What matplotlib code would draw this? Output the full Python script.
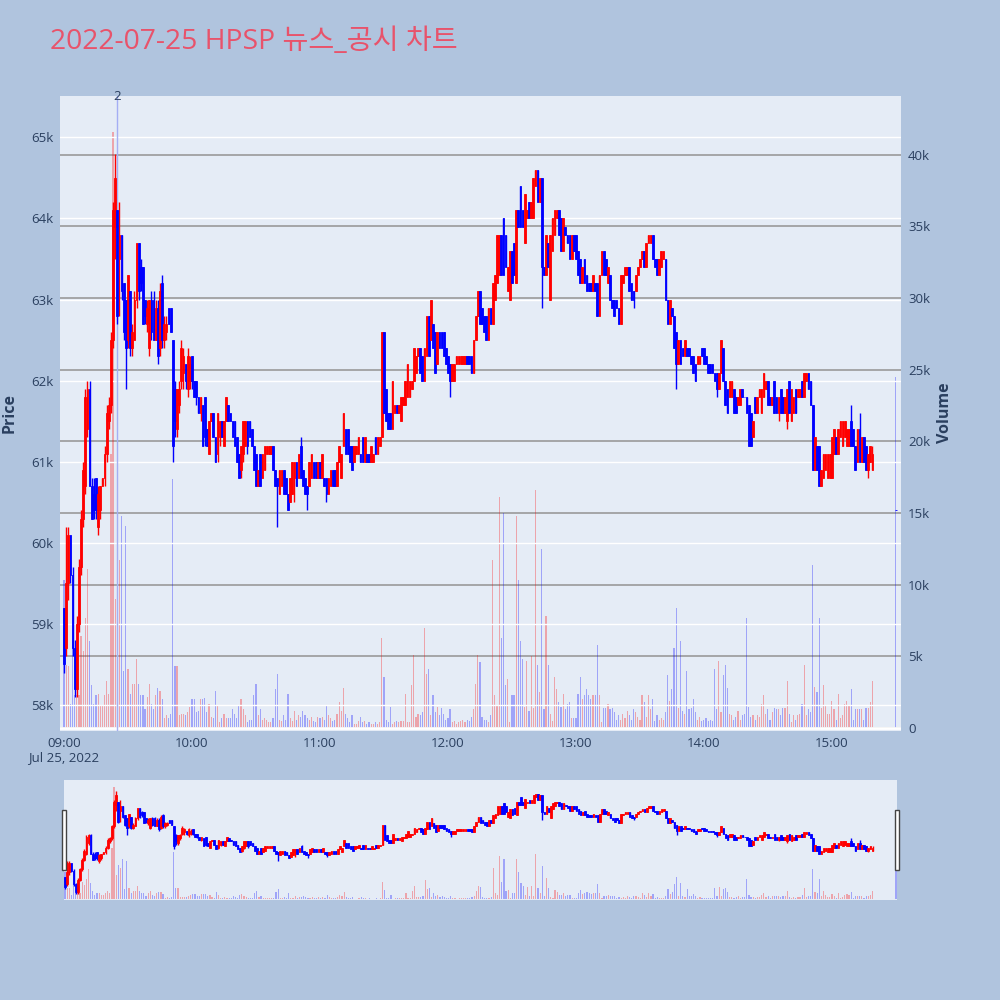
#!/usr/bin/env python3
"""1-minute candlestick + volume chart with a news marker and a range-slider preview."""
import matplotlib as mpl
mpl.use('Agg')
import matplotlib.pyplot as plt
import matplotlib.patches as mpatches
import matplotlib.transforms as mtransforms
from matplotlib.ticker import FixedLocator, FuncFormatter
import numpy as np

plt.rcParams['font.family'] = ['Open Sans', 'Noto Sans CJK KR', 'DejaVu Sans']

TITLE = "2022-07-25 HPSP 뉴스_공시 차트"

# one bar per minute from 09:00 to 15:19, prices in units of 100 won
open_ = [
	592, 587, 595, 601, 596, 587, 582, 590, 597, 603, 607, 614, 619, 607, 606, 608, 602, 604, 607, 608,
	611, 615, 617, 625, 639, 641, 635, 638, 632, 630, 625, 631, 624, 625, 630, 637, 634, 634, 630, 627,
	624, 630, 630, 625, 629, 624, 632, 625, 626, 629, 629, 625, 619, 614, 617, 620, 621, 622, 619, 620,
	623, 620, 620, 618, 616, 617, 618, 614, 611, 615, 616, 613, 611, 613, 615, 612, 615, 617, 616, 615,
	615, 613, 611, 609, 611, 612, 615, 615, 614, 612, 611, 607, 611, 608, 609, 611, 611, 611, 612, 609,
	608, 606, 607, 609, 608, 606, 605, 606, 608, 610, 608, 612, 609, 608, 607, 607, 608, 610, 610, 608,
	610, 608, 608, 608, 606, 607, 609, 609, 607, 610, 608, 612, 614, 614, 612, 612, 610, 611, 611, 611,
	613, 610, 611, 611, 610, 610, 613, 611, 612, 613, 626, 619, 616, 616, 614, 616, 617, 616, 615, 617,
	617, 618, 618, 619, 620, 621, 623, 624, 623, 620, 623, 628, 625, 627, 626, 622, 626, 626, 626, 624,
	623, 622, 620, 620, 622, 622, 622, 622, 622, 623, 623, 623, 621, 625, 628, 631, 629, 628, 628, 625,
	629, 627, 630, 632, 633, 638, 640, 638, 631, 630, 636, 637, 632, 641, 644, 641, 637, 640, 642, 640,
	640, 644, 646, 642, 645, 634, 633, 637, 630, 636, 638, 640, 641, 640, 636, 639, 638, 638, 635, 638,
	638, 636, 635, 632, 635, 633, 632, 632, 631, 632, 632, 628, 633, 636, 635, 632, 633, 630, 630, 630,
	629, 627, 632, 633, 633, 634, 632, 631, 631, 633, 634, 635, 636, 634, 637, 637, 638, 635, 635, 633,
	634, 635, 635, 630, 627, 629, 628, 626, 622, 625, 624, 623, 624, 624, 623, 623, 622, 622, 622, 624,
	624, 623, 622, 622, 622, 621, 621, 619, 621, 624, 620, 619, 618, 618, 619, 618, 617, 617, 619, 618,
	618, 617, 616, 613, 618, 616, 618, 616, 618, 619, 620, 618, 617, 620, 618, 616, 619, 618, 616, 615,
	620, 615, 616, 619, 618, 618, 620, 618, 620, 621, 620, 617, 609, 612, 612, 607, 608, 609, 608, 608,
	608, 611, 613, 611, 613, 612, 613, 612, 612, 615, 614, 612, 610, 614, 610, 613, 612, 609, 610, 609,
]
high = [
	592, 602, 602, 601, 597, 588, 591, 598, 604, 610, 619, 620, 620, 608, 608, 608, 607, 607, 608, 612,
	617, 618, 626, 642, 648, 641, 642, 638, 632, 630, 633, 631, 627, 631, 637, 637, 635, 634, 630, 630,
	630, 631, 631, 630, 630, 632, 633, 628, 628, 629, 629, 625, 620, 619, 620, 625, 624, 622, 624, 623,
	623, 620, 620, 618, 618, 617, 618, 614, 615, 616, 616, 613, 616, 615, 615, 615, 618, 617, 616, 615,
	615, 613, 611, 612, 615, 615, 615, 615, 614, 612, 611, 609, 611, 611, 612, 612, 612, 612, 612, 609,
	608, 609, 609, 609, 608, 606, 608, 610, 610, 610, 611, 613, 609, 608, 607, 610, 611, 610, 610, 610,
	610, 611, 608, 608, 608, 609, 609, 609, 610, 612, 611, 616, 614, 614, 612, 612, 612, 612, 613, 611,
	613, 613, 611, 611, 612, 611, 613, 613, 613, 626, 626, 619, 616, 616, 620, 617, 617, 617, 618, 618,
	620, 622, 620, 620, 624, 623, 624, 624, 623, 624, 628, 628, 630, 627, 626, 626, 626, 626, 626, 624,
	623, 622, 622, 622, 623, 623, 623, 623, 623, 623, 623, 623, 625, 628, 631, 631, 629, 628, 628, 629,
	629, 632, 633, 638, 638, 638, 640, 638, 634, 636, 636, 637, 641, 641, 644, 641, 643, 641, 642, 642,
	645, 646, 646, 645, 645, 634, 638, 637, 638, 640, 641, 641, 641, 640, 640, 639, 638, 638, 638, 638,
	638, 636, 635, 634, 635, 633, 632, 632, 633, 632, 632, 633, 636, 636, 635, 634, 633, 630, 630, 630,
	629, 633, 633, 634, 634, 634, 632, 631, 633, 634, 635, 636, 636, 637, 638, 638, 638, 635, 635, 635,
	636, 636, 635, 630, 630, 629, 628, 626, 625, 625, 624, 625, 624, 624, 623, 623, 622, 623, 623, 624,
	624, 623, 622, 622, 622, 621, 621, 621, 625, 624, 620, 619, 620, 620, 619, 618, 618, 619, 619, 618,
	618, 617, 616, 615, 618, 618, 619, 619, 621, 620, 620, 618, 618, 620, 618, 618, 619, 618, 618, 619,
	620, 619, 618, 619, 619, 619, 620, 621, 621, 621, 620, 617, 613, 612, 612, 609, 611, 611, 611, 611,
	613, 614, 613, 614, 615, 615, 615, 614, 614, 617, 614, 612, 614, 616, 613, 613, 612, 611, 612, 612,
]
low = [
	584, 586, 593, 595, 586, 581, 581, 589, 596, 602, 606, 613, 607, 603, 603, 603, 601, 603, 607, 607,
	610, 614, 616, 624, 635, 627, 628, 630, 625, 619, 624, 623, 623, 625, 629, 630, 631, 627, 627, 626,
	623, 625, 625, 625, 622, 623, 624, 624, 625, 627, 626, 610, 613, 613, 616, 619, 619, 619, 618, 619,
	619, 618, 617, 616, 615, 612, 612, 612, 611, 615, 613, 610, 610, 612, 613, 612, 615, 615, 615, 613,
	612, 610, 608, 608, 610, 612, 611, 613, 612, 609, 607, 607, 607, 608, 609, 611, 611, 611, 609, 607,
	602, 606, 607, 606, 606, 604, 605, 606, 605, 607, 608, 608, 607, 606, 604, 607, 608, 608, 608, 608,
	608, 608, 607, 605, 606, 607, 607, 607, 607, 610, 608, 612, 611, 611, 610, 609, 610, 611, 611, 610,
	610, 610, 610, 610, 610, 610, 611, 611, 612, 613, 616, 615, 614, 614, 614, 616, 616, 616, 615, 617,
	617, 618, 618, 619, 620, 621, 623, 621, 620, 620, 623, 623, 625, 624, 621, 622, 624, 624, 623, 622,
	621, 618, 620, 620, 622, 622, 622, 622, 622, 622, 622, 621, 621, 625, 628, 627, 627, 626, 625, 625,
	627, 627, 630, 632, 633, 633, 633, 634, 631, 630, 632, 633, 632, 639, 639, 639, 637, 640, 640, 640,
	640, 644, 642, 642, 629, 633, 633, 634, 630, 636, 638, 640, 638, 636, 636, 638, 637, 635, 635, 636,
	635, 633, 632, 632, 632, 631, 631, 631, 631, 631, 628, 628, 633, 633, 633, 632, 630, 629, 628, 629,
	627, 627, 632, 633, 633, 631, 630, 629, 631, 633, 634, 635, 634, 634, 637, 637, 635, 634, 633, 633,
	634, 635, 630, 627, 627, 628, 624, 619, 622, 622, 623, 623, 623, 623, 622, 621, 620, 622, 622, 623,
	622, 622, 621, 621, 621, 620, 618, 619, 621, 620, 617, 616, 618, 618, 616, 616, 617, 617, 618, 618,
	616, 612, 612, 613, 616, 616, 618, 616, 618, 619, 617, 617, 617, 616, 616, 615, 616, 616, 616, 614,
	616, 615, 616, 616, 618, 618, 618, 618, 620, 619, 617, 609, 609, 609, 607, 607, 608, 609, 608, 608,
	608, 611, 611, 611, 613, 612, 613, 612, 612, 612, 612, 609, 610, 610, 610, 610, 609, 608, 610, 609,
]
close = [
	585, 595, 601, 596, 587, 582, 590, 597, 603, 609, 618, 619, 607, 603, 604, 604, 606, 607, 608, 611,
	616, 617, 625, 641, 645, 628, 638, 631, 626, 624, 633, 624, 626, 630, 637, 631, 632, 627, 628, 629,
	630, 626, 625, 629, 623, 631, 625, 627, 627, 627, 626, 612, 615, 619, 619, 624, 623, 620, 623, 622,
	620, 618, 618, 616, 618, 612, 613, 612, 615, 616, 613, 610, 616, 615, 613, 615, 618, 615, 615, 613,
	612, 610, 608, 612, 615, 615, 612, 613, 612, 609, 607, 609, 607, 611, 612, 612, 612, 612, 609, 607,
	607, 609, 609, 606, 606, 604, 608, 610, 610, 607, 611, 608, 607, 606, 606, 610, 611, 608, 608, 610,
	608, 611, 607, 606, 608, 609, 607, 607, 610, 612, 611, 616, 611, 611, 610, 609, 612, 612, 613, 610,
	610, 613, 610, 610, 612, 611, 611, 613, 613, 626, 616, 615, 614, 614, 620, 617, 616, 617, 618, 618,
	620, 622, 620, 620, 624, 623, 624, 621, 620, 624, 628, 623, 630, 624, 621, 626, 624, 624, 623, 622,
	621, 620, 622, 622, 623, 623, 623, 623, 623, 622, 622, 621, 625, 628, 631, 627, 627, 626, 625, 629,
	627, 632, 633, 638, 638, 633, 633, 634, 634, 636, 632, 633, 641, 639, 639, 639, 643, 641, 640, 642,
	645, 646, 642, 645, 634, 633, 638, 634, 638, 640, 641, 641, 638, 636, 640, 638, 637, 635, 638, 636,
	635, 633, 632, 634, 632, 631, 631, 631, 633, 631, 628, 633, 636, 633, 633, 634, 630, 629, 628, 629,
	627, 633, 633, 634, 634, 631, 630, 630, 633, 634, 635, 636, 634, 637, 638, 638, 635, 634, 633, 635,
	636, 636, 630, 627, 630, 628, 624, 622, 625, 622, 623, 625, 623, 623, 622, 621, 620, 623, 623, 623,
	622, 622, 621, 621, 621, 620, 619, 621, 625, 620, 617, 616, 620, 620, 616, 616, 618, 619, 618, 618,
	616, 612, 612, 615, 616, 618, 619, 619, 621, 620, 617, 617, 618, 616, 616, 618, 616, 616, 618, 619,
	616, 619, 618, 616, 619, 619, 618, 621, 621, 619, 617, 609, 613, 609, 607, 609, 611, 611, 611, 611,
	613, 614, 611, 614, 615, 615, 615, 614, 614, 612, 612, 609, 614, 610, 613, 610, 609, 611, 612, 611,
]
# volume per minute, thousands of shares
volume_k = [
	10.3, 4.4, 4.3, 1.7, 6.1, 2.3, 2.3, 2.3, 6.4, 5.4, 7.7, 11.1, 6.1, 3.0, 1.7, 2.3, 2.4, 1.6, 1.6, 2.3,
	3.3, 2.4, 19.1, 41.6, 9.0, 12.7, 11.7, 14.8, 4.0, 14.1, 4.1, 2.4, 3.1, 3.1, 4.8, 3.1, 2.3, 2.3, 1.3, 2.2,
	3.1, 1.7, 1.3, 2.3, 2.8, 2.6, 2.0, 0.7, 0.9, 0.7, 1.0, 17.4, 4.3, 4.3, 0.9, 1.0, 1.0, 0.9, 1.1, 1.5,
	2.0, 2.0, 1.1, 1.2, 2.0, 2.0, 2.1, 1.1, 1.7, 0.8, 0.7, 2.6, 1.6, 0.4, 0.7, 1.0, 0.7, 0.7, 0.7, 1.3,
	1.0, 0.7, 1.6, 2.0, 1.3, 0.9, 0.4, 0.6, 0.6, 2.3, 3.1, 0.9, 1.3, 0.6, 0.7, 0.6, 0.4, 0.4, 0.7, 2.7,
	3.8, 0.6, 0.5, 0.9, 0.6, 2.4, 0.7, 0.5, 1.2, 0.6, 0.9, 0.8, 1.2, 0.9, 0.7, 0.6, 0.8, 0.5, 0.4, 0.8,
	0.7, 0.8, 0.6, 1.6, 0.9, 0.7, 0.5, 0.6, 1.0, 1.8, 1.2, 2.8, 1.0, 0.7, 0.4, 0.9, 0.3, 0.3, 0.5, 0.8,
	0.4, 0.5, 0.3, 0.4, 0.3, 0.3, 0.4, 0.3, 0.4, 6.3, 3.6, 0.6, 0.4, 1.5, 0.3, 0.4, 0.5, 0.4, 0.5, 0.5,
	2.4, 0.4, 0.4, 3.0, 5.1, 0.8, 1.0, 0.9, 1.1, 7.0, 3.8, 4.1, 0.9, 2.3, 1.1, 1.5, 0.9, 1.4, 1.0, 0.6,
	0.7, 1.3, 0.4, 0.5, 0.3, 0.4, 0.5, 0.6, 0.4, 0.6, 0.5, 0.8, 1.3, 3.1, 5.1, 4.6, 0.8, 0.6, 0.6, 0.4,
	0.9, 11.7, 2.3, 1.6, 16.1, 6.3, 15.0, 3.0, 3.4, 0.4, 2.3, 2.3, 14.8, 10.3, 6.1, 4.8, 1.5, 4.7, 1.2, 5.0,
	1.4, 16.6, 4.4, 2.5, 12.5, 1.3, 7.8, 4.4, 1.0, 0.5, 3.6, 2.7, 1.8, 1.5, 2.4, 1.3, 1.7, 1.8, 0.7, 0.7,
	0.7, 2.4, 3.6, 2.0, 2.3, 2.7, 2.3, 2.0, 2.3, 2.3, 5.8, 2.3, 0.4, 1.4, 1.4, 1.7, 1.3, 1.4, 1.1, 0.6,
	0.9, 0.6, 1.0, 0.7, 1.2, 0.9, 0.6, 1.3, 1.1, 0.8, 0.6, 2.3, 1.8, 0.8, 2.3, 1.3, 2.0, 0.5, 0.9, 0.6,
	0.7, 0.6, 1.1, 3.7, 1.9, 2.7, 5.6, 8.4, 1.4, 6.1, 1.2, 1.0, 4.0, 1.3, 1.4, 2.0, 1.1, 0.6, 0.8, 0.5,
	0.6, 0.7, 0.5, 0.6, 0.5, 4.1, 1.3, 4.7, 1.1, 3.7, 4.4, 2.8, 1.0, 0.9, 0.6, 0.8, 1.2, 0.6, 0.9, 1.0,
	7.7, 1.5, 0.8, 0.9, 0.6, 0.9, 0.8, 1.7, 2.3, 1.0, 1.3, 0.6, 1.1, 1.4, 1.3, 1.3, 0.9, 1.4, 1.4, 3.3,
	1.0, 0.4, 0.9, 0.6, 0.9, 1.0, 1.7, 4.4, 0.9, 1.3, 1.1, 11.4, 2.9, 2.5, 7.7, 1.4, 3.0, 1.6, 1.0, 1.0,
	1.9, 1.3, 0.6, 2.4, 0.7, 0.9, 1.7, 1.9, 1.6, 2.7, 0.6, 1.3, 1.3, 1.3, 1.3, 0.6, 1.4, 1.4, 1.8, 3.3,
]
# closing auction print
auction_time = "15:30"
auction_price = 604
auction_volume_k = 24.5

news_time = "09:25"
news_count = 2

tick_times = ["09:00", "10:00", "11:00", "12:00", "13:00", "14:00", "15:00"]
tick_labels = ["09:00\nJul 25, 2022", "10:00", "11:00", "12:00", "13:00", "14:00", "15:00"]

BG = '#B0C4DE'
PLOT_BG = '#E5ECF6'
FONT = '#2a3f5f'
UP, DOWN = '#FF0000', '#0000FF'


def minutes(hhmm):
	h, m = hhmm.split(':')
	return (int(h) - 9) * 60 + int(m)


t = np.append(np.arange(len(close)), minutes(auction_time))
o = np.array(open_ + [auction_price]) * 100
h = np.array(high + [auction_price]) * 100
l = np.array(low + [auction_price]) * 100
c = np.array(close + [auction_price]) * 100
v = np.array(volume_k + [auction_volume_k]) * 1000
up = c > o
colors = np.where(up, UP, DOWN)


def draw(ax_p, ax_v, wick_lw):
	ax_v.bar(t, v, width=0.55, color=colors, alpha=0.3, linewidth=0)
	ax_p.vlines(t, l, h, colors=colors, linewidth=wick_lw, zorder=3)
	ax_p.bar(t, np.abs(c - o), bottom=np.minimum(o, c), width=0.8,
			 color=colors, edgecolor=colors, linewidth=0.6, zorder=3)


fig = plt.figure(figsize=(10, 10), dpi=100, facecolor=BG)

# main chart: volume axes underneath, price axes on top
ax_v = fig.add_axes([0.060, 0.269, 0.841, 0.635], facecolor=PLOT_BG)
ax_p = ax_v.twinx()
draw(ax_p, ax_v, 1.0)

ax_v.set_xlim(-1.875, 392.4)
ax_p.set_ylim(57680, 65510)
ax_v.set_ylim(-200, 44100)

ax_p.yaxis.tick_left()
ax_v.yaxis.tick_right()
ax_p.yaxis.set_major_locator(FixedLocator(np.arange(58000, 65001, 1000)))
ax_p.yaxis.set_major_formatter(FuncFormatter(lambda x, _: f"{x / 1000:g}k"))
ax_v.yaxis.set_major_locator(FixedLocator(np.arange(0, 40001, 5000)))
ax_v.yaxis.set_major_formatter(FuncFormatter(lambda x, _: "0" if x == 0 else f"{x / 1000:g}k"))
ax_v.set_xticks([minutes(s) for s in tick_times])
ax_v.set_xticklabels(tick_labels)

ax_v.grid(axis='y', color='#9a9a9a', linewidth=1.2)
ax_v.set_axisbelow(True)
ax_v.axhline(0, color='white', linewidth=2, zorder=1)
ax_p.grid(axis='y', color='white', linewidth=1.0)
ax_p.set_axisbelow(True)

for ax in (ax_v, ax_p):
	for s in ax.spines.values():
		s.set_visible(False)
	ax.tick_params(length=0, labelsize=9.5, labelcolor=FONT, pad=5)
ax_v.tick_params(axis='x', pad=4)

# news marker
news_x = minutes(news_time)
ax_p.axvline(news_x, color='#a4aef4', linewidth=1.0, zorder=2)
trans = mtransforms.blended_transform_factory(ax_p.transData, ax_p.transAxes)
ax_p.text(news_x, 1.0, str(news_count), transform=trans, ha='center', va='center',
		  fontsize=9.5, color=FONT)

fig.text(0.050, 0.958, TITLE, fontsize=20.3, color='#E8536B', ha='left', va='center')
fig.text(0.010, 0.587, "Price", rotation=90, ha='center', va='center',
		 fontsize=11.5, fontweight='bold', color=FONT)
fig.text(0.945, 0.587, "Volume", rotation=90, ha='center', va='center',
		 fontsize=11.5, fontweight='bold', color=FONT)

# range slider preview
ax_sv = fig.add_axes([0.064, 0.100, 0.833, 0.120], facecolor=PLOT_BG)
ax_sp = ax_sv.twinx()
draw(ax_sp, ax_sv, 1.0)
ax_sv.set_xlim(-0.5, 390.5)
ax_sp.set_ylim(57680, 65510)
ax_sv.set_ylim(-200, 44100)
for ax in (ax_sv, ax_sp):
	ax.set_xticks([])
	ax.set_yticks([])
	for s in ax.spines.values():
		s.set_visible(False)

for x0 in (0.0615, 0.8945):
	fig.add_artist(mpatches.Rectangle((x0, 0.130), 0.0045, 0.060, transform=fig.transFigure,
									  facecolor='white', edgecolor='#444444', linewidth=1.0))

fig.savefig('out.png', dpi=100, facecolor=BG)
